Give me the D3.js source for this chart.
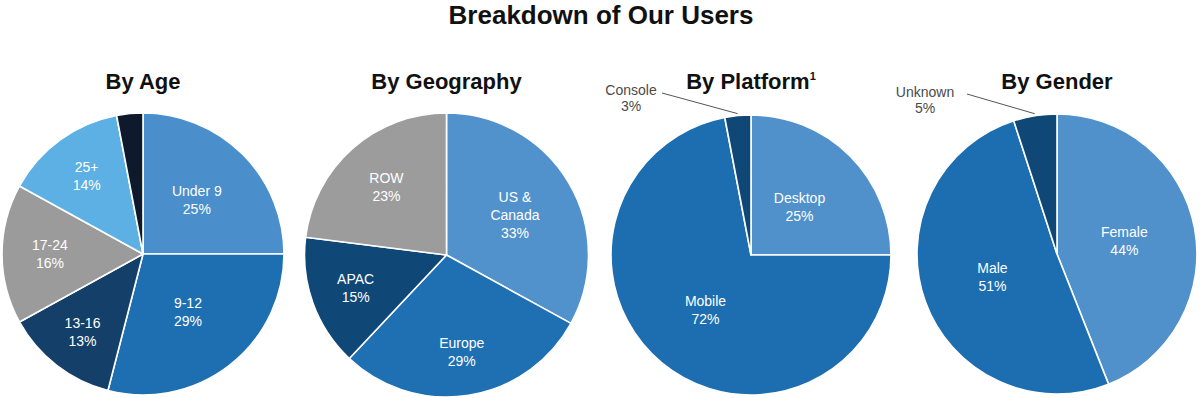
<!DOCTYPE html>
<html><head><meta charset="utf-8">
<script src="https://cdn.jsdelivr.net/npm/d3@7"></script>
<style>body{margin:0;background:#fff;} svg{display:block;}</style>
</head><body>
<svg id="c" width="1200" height="398"></svg>
<script>
// ---- data ----
const chartTitle = "Breakdown of Our Users";
const ageLabels = ["Under 9","9-12","13-16","17-24","25+",""];
const ageValues = [25,29,13,16,14,3];
const geoLabels = ["US &\nCanada","Europe","APAC","ROW"];
const geoValues = [33,29,15,23];
const platformLabels = ["Desktop","Mobile","Console"];
const platformValues = [25,72,3];
const genderLabels = ["Female","Male","Unknown"];
const genderValues = [44,51,5];

// ---- layout / style ----
const charts = [
  {title:"By Age", sup:"", labels:ageLabels, values:ageValues, cx:143, cy:254, r:141,
   colors:["#4a8ecb","#1e6fb1","#143f69","#9b9b9b","#5cb0e3","#0e1a2c"],
   lf:[0.54,0.52,0.70,0.66,0.68,0], outside:[]},
  {title:"By Geography", sup:"", labels:geoLabels, values:geoValues, cx:446.5, cy:255, r:142,
   colors:["#5292cc","#1e70b3","#0f4777","#9c9c9c"],
   lf:[0.56,0.69,0.68,0.64], outside:[]},
  {title:"By Platform", sup:"1", labels:platformLabels, values:platformValues, cx:751, cy:255, r:140,
   colors:["#5091cb","#1c6eb1","#0f4777"],
   lf:[0.49,0.51,0], outside:[2], ox:631, oy:90, lx1:662, ly1:93},
  {title:"By Gender", sup:"", labels:genderLabels, values:genderValues, cx:1057, cy:254, r:140,
   colors:["#5091cb","#1c6eb1","#0f4777"],
   lf:[0.49,0.49,0], outside:[2], ox:925, oy:92, lx1:967, ly1:94}
];

const svg = d3.select("#c");
const font = "'Liberation Sans', Arial, Helvetica, sans-serif";

svg.append("text").attr("x",601).attr("y",24).attr("text-anchor","middle")
  .attr("font-family",font).attr("font-weight","bold").attr("font-size",26)
  .attr("fill","#111").text(chartTitle);

const pie = d3.pie().sort(null).value(d=>d);

charts.forEach(ch => {
  const g = svg.append("g").attr("transform",`translate(${ch.cx},${ch.cy})`);
  const arcs = pie(ch.values);
  const arc = d3.arc().innerRadius(0).outerRadius(ch.r);
  g.selectAll("path").data(arcs).join("path")
    .attr("d",arc).attr("fill",(d,i)=>ch.colors[i])
    .attr("stroke","#fff").attr("stroke-width",1.6).attr("stroke-linejoin","round");

  // title
  const t = svg.append("text").attr("x",ch.cx).attr("y",89).attr("text-anchor","middle")
    .attr("font-family",font).attr("font-weight","bold").attr("font-size",22).attr("fill","#111");
  t.append("tspan").text(ch.title);
  if (ch.sup) t.append("tspan").attr("font-size",11).attr("dy",-9).text(ch.sup);

  arcs.forEach((a,i)=>{
    const lbl = ch.labels[i];
    if (!lbl) return;
    const pct = ch.values[i] + "%";
    const lines = lbl.split("\n").concat([pct]);
    if (ch.outside.includes(i)) {
      const tx = svg.append("text").attr("text-anchor","middle").attr("font-family",font)
        .attr("font-size",14).attr("fill","#4a4a4a");
      lines.forEach((l,k)=>tx.append("tspan").attr("x",ch.ox).attr("y",ch.oy+5+k*16).text(l));
      const mid = (a.startAngle+a.endAngle)/2;
      const px = ch.cx + Math.sin(mid)*(ch.r+2), py = ch.cy - Math.cos(mid)*(ch.r+2);
      svg.append("line").attr("x1",ch.lx1).attr("y1",ch.ly1).attr("x2",px).attr("y2",py)
        .attr("stroke","#555").attr("stroke-width",1);
    } else {
      const mid = (a.startAngle+a.endAngle)/2;
      const rr = ch.r*ch.lf[i];
      const x = Math.sin(mid)*rr, y = -Math.cos(mid)*rr;
      const lh = 18;
      const tx = g.append("text").attr("text-anchor","middle").attr("font-family",font)
        .attr("font-size",14).attr("fill","#fff");
      const y0 = y - (lines.length-1)*lh/2 + 5;
      lines.forEach((l,k)=>tx.append("tspan").attr("x",x).attr("y",y0+k*lh).text(l));
    }
  });
});
</script>
</body></html>
